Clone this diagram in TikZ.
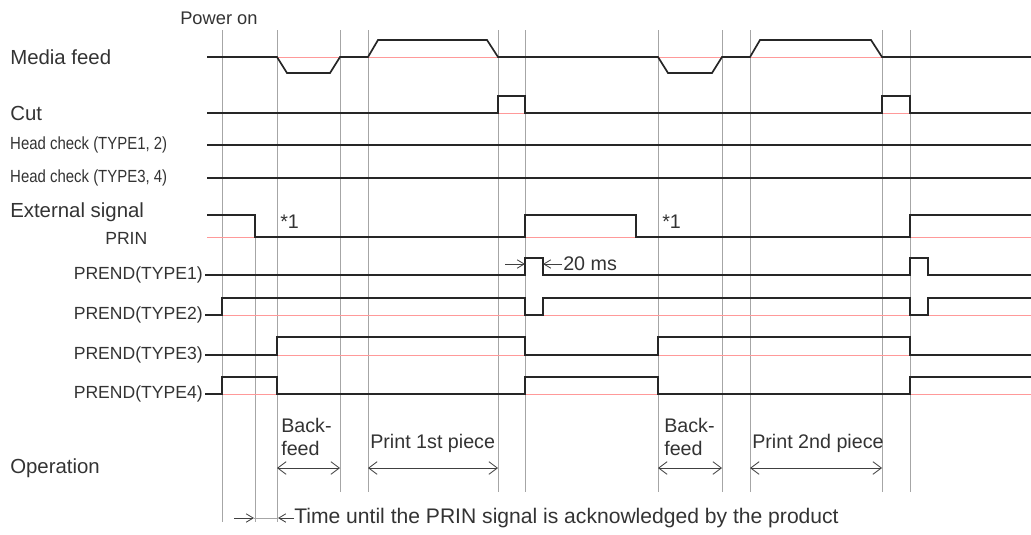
\documentclass[tikz,border=0pt]{standalone}
\usepackage{fontspec}
\setmainfont{Liberation Sans}
\usetikzlibrary{arrows.meta}
\begin{document}
\begin{tikzpicture}[x=0.025cm,y=-0.025cm,
  sig/.style={line width=1.2pt,black!85},
  refl/.style={red!40,line width=0.6pt},
  vl/.style={gray!70,line width=0.5pt},
  lab/.style={anchor=west,inner sep=0,font=\fontsize{14.5}{16}\selectfont,text=black!80},
  slab/.style={anchor=east,inner sep=0,font=\fontsize{12.5}{14}\selectfont,text=black!80},
  hlab/.style={anchor=west,inner sep=0,font=\fontsize{12.5}{14}\selectfont,text=black!80,xscale=0.85},
  olab/.style={anchor=west,inner sep=0,font=\fontsize{14}{16}\selectfont,text=black!80,align=left},
  dim/.style={{Straight Barb[length=6pt,width=9pt]}-{Straight Barb[length=6pt,width=9pt]},black!75,line width=0.6pt},
  sarr/.style={-{Straight Barb[length=5pt,width=6pt]},black!75,line width=0.6pt}]
\useasboundingbox (0,0) rectangle (1031,534);
% vertical guide lines
\foreach \x in {222,277}{\draw[vl] (\x,30)--(\x,522);}
\draw[vl] (255,237)--(255,522);
\foreach \x in {340,368,498,525,658,722,750,882,910}{\draw[vl] (\x,30)--(\x,492);}
% reference lines
\foreach \y in {57,113,237,315,355,394}{\draw[refl] (207,\y)--(1031,\y);}
% labels
\node[lab,font=\fontsize{13}{15}\selectfont] (pw) at (180,18) {Power on};
\node[lab] (mf) at (10,57) {Media feed};
\node[lab] (ct) at (10,113) {Cut};
\node[hlab] (h1) at (10,145) {Head check (TYPE1, 2)};
\node[hlab] (h2) at (10,178) {Head check (TYPE3, 4)};
\node[lab] (es) at (10,212) {External signal};
\node[slab,anchor=west] (pr) at (105,238) {PRIN};
\node[slab] (p1) at (203,275) {PREND(TYPE1)};
\node[slab] (p2) at (203,315) {PREND(TYPE2)};
\node[slab] (p3) at (203,355) {PREND(TYPE3)};
\node[slab] (p4) at (203,394) {PREND(TYPE4)};
\node[lab] (op) at (10,468) {Operation};
% signals
\draw[sig] (207,57)--(277,57)--(287,73)--(330,73)--(340,57)--(368,57)--(378,40)--(487,40)--(498,57)
  --(658,57)--(668,73)--(712,73)--(722,57)--(750,57)--(760,40)--(871,40)--(882,57)--(1031,57);
\draw[sig] (207,113)--(498,113)--(498,96)--(525,96)--(525,113)--(882,113)--(882,96)--(910,96)--(910,113)--(1031,113);
\draw[sig] (207,145)--(1031,145);
\draw[sig] (207,178)--(1031,178);
\draw[sig] (207,215)--(255,215)--(255,237)--(525,237)--(525,215)--(636,215)--(636,237)--(910,237)--(910,215)--(1031,215);
\draw[sig] (p1.east)++(2,0)--(525,275)--(525,258)--(543,258)--(543,275)--(910,275)--(910,258)--(928,258)--(928,275)--(1031,275);
\draw[sig] (p2.east)++(2,0)--(222,315)--(222,298)--(525,298)--(525,315)--(543,315)--(543,298)--(910,298)--(910,315)--(928,315)--(928,298)--(1031,298);
\draw[sig] (p3.east)++(2,0)--(277,355)--(277,337)--(525,337)--(525,355)--(658,355)--(658,337)--(910,337)--(910,355)--(1031,355);
\draw[sig] (p4.east)++(2,0)--(222,394)--(222,377)--(277,377)--(277,394)--(525,394)--(525,377)--(658,377)--(658,394)--(910,394)--(910,377)--(1031,377);
% *1
\node[olab] (s1) at (280,222) {*1};
\node[olab] (s2) at (662,222) {*1};
% 20 ms
\coordinate (a1) at (505,264); \coordinate (a2) at (525,264);
\coordinate (b1) at (562,264); \coordinate (b2) at (543,264);
\draw[sarr] (a1)--(a2); \draw[sarr] (b1)--(b2);
\node[olab] (ms) at (563,264) {20 ms};
% operation labels
\node[olab] (bf1) at (281,437) {Back-\\feed};
\node[olab] (pp1) at (370,443) {Print 1st piece};
\node[olab] (bf2) at (664,437) {Back-\\feed};
\node[olab] (pp2) at (752,443) {Print 2nd piece};
\coordinate (o1) at (277,468); \coordinate (o2) at (340,468);
\coordinate (o3) at (368,468); \coordinate (o4) at (498,468);
\coordinate (o5) at (658,468); \coordinate (o6) at (722,468);
\coordinate (o7) at (750,468); \coordinate (o8) at (882,468);
\draw[dim] (o1)--(o2); \draw[dim] (o3)--(o4); \draw[dim] (o5)--(o6); \draw[dim] (o7)--(o8);
% bottom time arrows
\coordinate (t1) at (234,518); \coordinate (t2) at (254,518);
\coordinate (t3) at (294,518); \coordinate (t4) at (278,518);
\draw[vl] (t2)--(t4);
\draw[sarr] (t1)--(t2); \draw[sarr] (t3)--(t4);
\node[olab,font=\fontsize{15}{17}\selectfont] (tx) at (294,518) {Time until the PRIN signal is acknowledged by the product};
\end{tikzpicture}
\end{document}
